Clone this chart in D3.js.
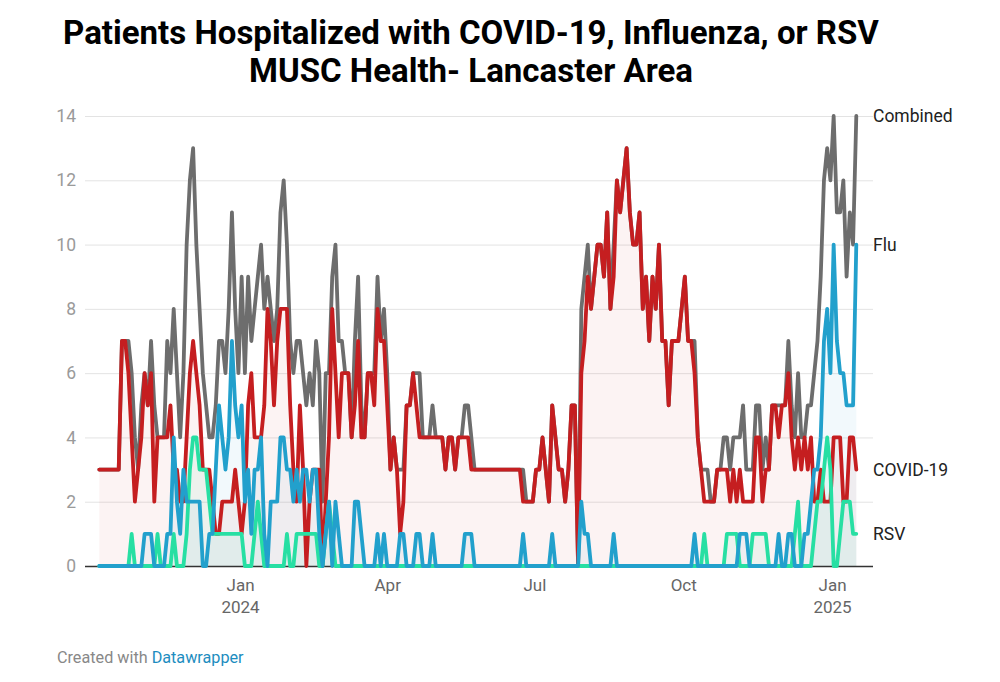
<!DOCTYPE html>
<html><head><meta charset="utf-8">
<script src="https://cdn.jsdelivr.net/npm/d3@7"></script>
<style>
body{margin:0;background:#fff;}
svg{display:block;font-family:Roboto,"Noto Sans",Arial,sans-serif;}
</style></head><body>
<svg id="chart" width="1000" height="682"></svg>
<script>
// ---- data (one reading every 2 days, starting 2023-10-06) ----
const startDate = "2023-10-06";
const stepDays = 2;

const covid = [3,3,3,3,3,3,3,7,7,6,
4,2,3,4,6,5,6,2,4,4,
4,4,5,3,3,2,2,4,6,7,
6,5,3,3,3,2,1,1,2,2,
2,2,3,2,1,2,5,6,4,4,
4,5,8,7,5,7,8,8,8,5,
3,2,5,3,0,2,3,3,3,0,
2,4,8,6,4,6,6,6,4,5,
7,4,4,6,6,5,8,7,7,5,
3,4,3,1,2,5,5,6,5,4,
4,4,4,4,4,4,4,3,4,4,
3,4,4,4,4,3,3,3,3,3,
3,3,3,3,3,3,3,3,3,3,
3,2,2,2,2,3,3,4,3,2,
5,4,3,3,2,3,5,5,0,6,
7,9,8,9,10,10,9,11,8,9,
12,11,12,13,11,10,10,11,8,9,
7,9,8,10,7,7,5,7,7,7,
8,9,7,7,6,4,3,2,2,2,
2,3,3,3,3,2,3,2,3,2,
2,2,2,4,4,2,3,3,5,5,
4,5,5,6,4,3,4,3,4,3,
4,2,2,3,2,2,2,4,4,4,
2,2,4,4,3];

const flu = [0,0,0,0,0,0,0,0,0,0,
0,0,0,0,1,1,1,0,0,0,
0,1,1,4,2,1,3,2,2,2,
2,2,0,0,1,1,3,5,4,3,
4,7,5,4,5,2,3,1,3,3,
4,1,0,2,2,2,4,4,3,3,
2,3,2,3,3,2,3,3,1,0,
1,2,0,2,1,0,0,0,0,2,
2,1,0,0,0,0,1,0,1,0,
0,0,0,1,1,0,0,0,1,1,
0,0,0,1,0,0,0,0,0,0,
0,0,0,1,1,1,0,0,0,0,
0,0,0,0,0,0,0,0,0,0,
0,1,0,0,0,0,0,0,0,0,
1,0,0,0,0,0,0,0,0,2,
1,1,0,0,0,0,0,0,0,1,
0,0,0,0,0,0,0,0,0,0,
0,0,0,0,0,0,0,0,0,0,
0,0,0,0,1,0,0,0,0,0,
0,0,0,0,0,0,0,0,1,1,
1,0,0,0,0,0,0,0,0,0,
1,0,0,1,1,0,0,0,1,1,
2,3,3,4,7,8,6,10,7,6,
6,5,5,5,10];

const rsv = [0,0,0,0,0,0,0,0,0,0,
1,0,0,0,0,0,0,0,1,0,
0,0,0,1,0,0,0,1,3,4,
4,3,3,3,2,1,1,1,1,1,
1,1,1,1,1,0,0,0,1,2,
1,0,0,0,0,0,0,0,1,0,
0,1,1,1,1,1,1,1,0,0,
1,2,1,0,0,0,0,0,0,0,
0,0,0,0,0,0,0,0,0,0,
0,0,0,0,0,0,0,0,0,0,
0,0,0,0,0,0,0,0,0,0,
0,0,0,0,0,0,0,0,0,0,
0,0,0,0,0,0,0,0,0,0,
0,0,0,0,0,0,0,0,0,0,
0,0,0,0,0,0,0,0,0,0,
0,0,0,0,0,0,0,0,0,0,
0,0,0,0,0,0,0,0,0,0,
0,0,0,0,0,0,0,0,0,0,
0,0,0,0,0,0,0,1,0,0,
0,0,0,0,1,1,1,1,0,0,
0,0,1,1,1,1,1,0,0,0,
0,0,0,0,0,1,2,0,0,0,
0,1,2,2,3,4,3,0,0,1,
2,2,2,1,1];

const combined = [3,3,3,3,3,3,3,7,7,7,
6,4,3,5,6,5,7,5,4,4,
4,7,6,8,6,4,6,10,12,13,
10,8,6,5,4,4,5,7,7,6,
8,11,8,6,9,6,9,7,8,9,
10,8,9,8,7,8,11,12,10,7,
6,7,7,6,5,6,5,7,6,2,
6,6,9,10,7,7,6,6,4,7,
9,5,4,6,6,6,9,7,8,6,
3,4,3,3,3,5,5,6,6,6,
4,4,4,5,4,4,4,3,4,4,
3,4,4,5,5,4,3,3,3,3,
3,3,3,3,3,3,3,3,3,3,
3,3,2,2,2,3,3,4,3,2,
5,4,3,3,2,3,5,5,0,8,
9,10,8,9,10,10,9,11,8,10,
12,11,12,13,11,10,10,11,8,9,
7,9,8,10,7,7,5,7,7,7,
8,9,7,7,7,4,3,3,3,2,
2,3,3,4,4,3,4,4,4,5,
3,3,3,5,5,3,4,3,5,5,
5,5,5,7,5,4,6,4,4,5,
5,6,7,9,12,13,12,14,11,11,
12,9,11,10,14];

const seriesNames = ["Combined", "COVID-19", "Flu", "RSV"];
const yTicks = [0, 2, 4, 6, 8, 10, 12, 14];
const xTickDates = ["2024-01-01", "2024-04-01", "2024-07-01", "2024-10-01", "2025-01-01"];
const xTickLabels = [["Jan", "2024"], ["Apr"], ["Jul"], ["Oct"], ["Jan", "2025"]];
const titleLines = ["Patients Hospitalized with COVID-19, Influenza, or RSV", "MUSC Health- Lancaster Area"];

// ---- build ----
const parse = d3.utcParse("%Y-%m-%d");
const t0 = parse(startDate);
const dates = covid.map((_, i) => d3.utcDay.offset(t0, i * stepDays));
const valuesByName = {"Combined": combined, "COVID-19": covid, "Flu": flu, "RSV": rsv};
const colors = {"Combined": "#6d6d6d", "COVID-19": "#c51e20", "Flu": "#22a0cc", "RSV": "#27dfa3"};

const svg = d3.select("#chart");
const plotLeft = 85, plotRight = 873, plotTop = 116, plotBottom = 566;

const x = d3.scaleUtc().domain([dates[0], dates[dates.length - 1]]).range([99.3, 856.3]);
const y = d3.scaleLinear().domain([0, 14]).range([plotBottom, plotTop]);

// title
const tg = svg.append("g").attr("fill", "#000").attr("font-weight", 700).attr("text-anchor", "middle");
const t1 = tg.append("text").attr("x", 471).attr("y", 44).attr("font-size", 28).text(titleLines[0]);
const w1 = t1.node().getComputedTextLength();
const fs = 28 * 816 / w1;
t1.attr("font-size", fs);
tg.append("text").attr("x", 471).attr("y", 82).attr("font-size", fs).text(titleLines[1]);

// y axis + grid
const yAxis = svg.append("g").attr("transform", `translate(${plotLeft},0)`)
  .call(d3.axisLeft(y).tickValues(yTicks).tickSize(-(plotRight - plotLeft)).tickPadding(9));
yAxis.select(".domain").remove();
yAxis.selectAll(".tick line").attr("stroke", "#e3e3e3").attr("stroke-width", 1);
yAxis.selectAll(".tick text").attr("fill", "#9a9a9a").attr("font-size", 17.5).attr("font-family", "Roboto, sans-serif");

// areas
const fills = [["COVID-19", "rgba(199,30,29,0.055)"], ["Flu", "rgba(36,160,204,0.06)"], ["RSV", "rgba(39,223,163,0.07)"]];
fills.forEach(([name, col]) => {
  const vals = valuesByName[name];
  const area = d3.area().x((d, i) => x(dates[i])).y0(y(0)).y1(d => y(d));
  svg.append("path").datum(vals).attr("d", area).attr("fill", col);
});

// baseline
svg.append("line").attr("x1", plotLeft).attr("x2", plotRight).attr("y1", plotBottom + 0.5).attr("y2", plotBottom + 0.5)
  .attr("stroke", "#333").attr("stroke-width", 1.5);

// lines
const drawOrder = ["Combined", "COVID-19", "RSV", "Flu"];
drawOrder.forEach(name => {
  const vals = valuesByName[name];
  const line = d3.line().x((d, i) => x(dates[i])).y(d => y(d));
  svg.append("path").datum(vals).attr("d", line).attr("fill", "none")
    .attr("stroke", colors[name]).attr("stroke-width", 3.8)
    .attr("stroke-linejoin", "round").attr("stroke-linecap", "round");
});

// line labels
seriesNames.forEach(name => {
  const vals = valuesByName[name];
  svg.append("text").attr("x", 873).attr("y", y(vals[vals.length - 1])).attr("dy", "0.35em")
    .attr("font-size", 17.5).attr("fill", "#222").text(name);
});

// x axis
const xAxis = svg.append("g").attr("transform", `translate(0,${plotBottom})`)
  .call(d3.axisBottom(x).tickValues(xTickDates.map(parse)).tickSize(0).tickPadding(13).tickFormat((d, i) => xTickLabels[i][0]));
xAxis.select(".domain").remove();
xAxis.selectAll(".tick text").attr("fill", "#666").attr("font-size", 17).attr("font-family", "Roboto, sans-serif")
  .each(function(d, i) {
    const t = d3.select(this);
    t.text(null);
    xTickLabels[i].forEach((s, j) => t.append("tspan").attr("x", 0).attr("dy", j ? "1.3em" : "0.71em").text(s));
  });

// footer
const ft = svg.append("text").attr("x", 57).attr("y", 663).attr("font-size", 16.2).attr("fill", "#888");
ft.append("tspan").text("Created with ");
ft.append("tspan").attr("fill", "#1d8dc0").text("Datawrapper");
</script>
</body></html>
